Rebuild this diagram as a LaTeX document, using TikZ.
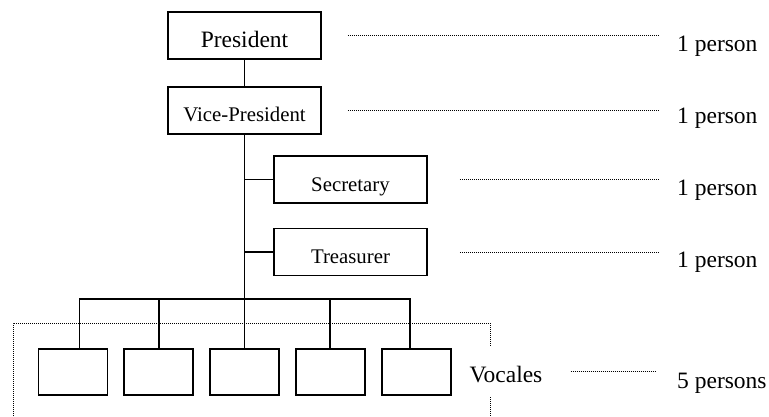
\documentclass[tikz,border=0pt]{standalone}
\usepackage{fontspec}
\setmainfont{Liberation Serif}
\usetikzlibrary{positioning}

\tikzset{
  box/.style={draw, line width=1.8pt, minimum width=153pt, minimum height=47pt,
    inner sep=0pt, text height=23pt, text depth=0pt,
    font=\fontsize{20.8}{24}\selectfont},
  seat/.style={draw, line width=1.8pt, minimum width=69pt, minimum height=46pt, inner sep=0pt},
  link/.style={line width=1.8pt},
  leader/.style={line width=1pt, dash pattern=on 1pt off 1pt},
  count/.style={anchor=base west, inner sep=0pt, font=\fontsize{23.5}{26}\selectfont},
}

\begin{document}
\begin{tikzpicture}[x=1pt, y=-1pt]
    \useasboundingbox (0,0) rectangle (769,416);

    % define nodes
    \node[box, font=\fontsize{23.5}{26}\selectfont] (pres) at (244.5,35.5) {President};
    \node[box, below=26pt of pres] (vp) {Vice-President};
    \node[box] (sec) at (350.5,179.5) {Secretary};
    \node[box] (tres) at (350.5,252) {Treasurer};

    \node[seat] (v3) at (244.5,372) {};
    \node[seat, left=15pt of v3] (v2) {};
    \node[seat, left=15pt of v2] (v1) {};
    \node[seat, right=15pt of v3] (v4) {};
    \node[seat, right=15pt of v4] (v5) {};
    \coordinate (bus) at (244.5,299);

    \node[count] (voc) at (469.5,382) {Vocales};
    \node[count] (p1) at (677,51) {1 person};
    \node[count] (p2) at (677,123) {1 person};
    \node[count] (p3) at (677,195) {1 person};
    \node[count] (p4) at (677,267) {1 person};
    \node[count] (p5) at (677,388) {5 persons};


    % connect the nodes
    \draw[link] (pres) -- (vp);
    \draw[link] (vp) -- (bus);
    \draw[link] (sec) -- (sec -| vp);
    \draw[link] (tres) -- (tres -| vp);

    \draw[link] ([xshift=6.5pt]v1.north) |- (bus) -| ([xshift=-6.5pt]v5.north);
    \draw[link] (v2) -- (v2 |- bus);
    \draw[link] (v3) -- (bus);
    \draw[link] (v4) -- (v4 |- bus);


    % leaders
    \draw[leader] ([xshift=26pt]pres.east) -- ([xshift=-19pt]p1.west |- pres.east);
    \draw[leader] ([xshift=26pt]vp.east) -- ([xshift=-19pt]p2.west |- vp.east);
    \draw[leader] ([xshift=32pt]sec.east) -- ([xshift=-19pt]p3.west |- sec.east);
    \draw[leader] ([xshift=32pt]tres.east) -- ([xshift=-19pt]p4.west |- tres.east);
    \draw[leader] ([xshift=28pt, yshift=3pt]voc.east) -- ([xshift=-22pt, yshift=3pt]p5.west |- voc.east);

    % frame round the vocales
    \draw[leader] (13,418) |- (490,323) -- (490,347);
    \draw[leader] (490,397) -- (490,418);

\end{tikzpicture}
\end{document}
